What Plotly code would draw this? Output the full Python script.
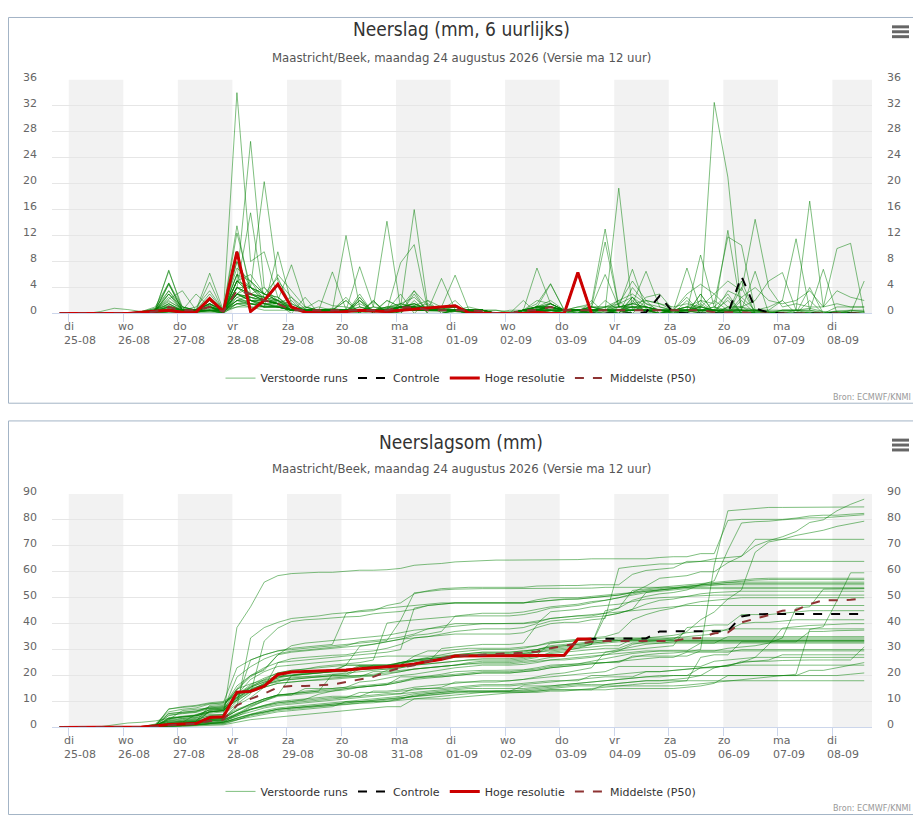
"""
Pluimverwachting neerslag Maastricht/Beek: 6-uurlijkse neerslag (boven)
en neerslagsom (onder) van de ECMWF-ensembleleden, controle, hoge resolutie
en de mediaan (P50).
"""

import numpy as np
import pandas as pd
import plotly.graph_objects as go

# de pagina heeft 8px body-marge; figuur daarom iets kleiner en alles in
# vensterpixels opgeven
OFF = 8
W, H = 921 - OFF, 820 - OFF

# --- data -------------------------------------------------------------------
# 6-uurlijkse tijdstappen (lokale tijd), eerste stap 24-08 20:00
START = "2026-08-24 20:00"
N_STEPS = 60

DAY_NAMES = ["di", "wo", "do", "vr", "za", "zo", "ma", "di", "wo", "do", "vr", "za", "zo", "ma", "di"]
DAY_DATES = ["25-08", "26-08", "27-08", "28-08", "29-08", "30-08", "31-08", "01-09",
             "02-09", "03-09", "04-09", "05-09", "06-09", "07-09", "08-09"]

# verstoorde runs, neerslag per 6 uur (mm)
m01 = [0, 0,0,0,0, 0,.3,.8,1.2, .5,.4,1.3,0, 34,8,9.5,2.5, .8,.3,.2,0, .5,.3,0,.2, .5,1.2,.4,.3, .6,.3,.2,.2, 0,0,.2,0, 0,0,.3,0, 0,0,0,.5, .3,0,1.2,0, 12.8,.4,0,0, 0,.5,.8,.3, 0,.4,.3]
m02 = [0, 0,0,0,0, 0,0,.5,1.5, .3,.2,.5,0, 5,26.5,4,2, 1.5,.5,.5,.8, .4,.5,.3,2, 1,3.5,1.2,.8, .3,.2,0,0, 0,0,.5,.2, 0,0,.3,0, 0,4,1.5,.5, .5,2.5,0,0, 0,0,0,0, 0,0,0,0, 0,0,0]
m03 = [0, 0,0,0,0, 0,.2,.6,1.8, .8,.4,1.2,0, 4,4,20.3,5, 2.5,.7,.3,.5, .3,.2,1,.5, .4,.8,1.5,.5, .5,0,0,0, 0,0,1.2,.8, 0,0,.5,.5, .5,.5,2.5,3, .5,.5,1.5,0, 3.5,2.5,4,2, 1.5,2,3.5,1, 3.5,2.5,2]
m04 = [0, 0,0,0,0, 0,0,.3,.7, .2,.3,.5,0, 3,2,1.5,1, .5,.8,2,1.2, 1,.5,.5,.5, 1,1.5,.8,.7, 1,.3,.2,0, 0,.2,.8,1, .3,.2,.5,0, .5,1.5,1,.5, .2,.5,.8,32.5, 21,.5,.5,.3, 0,0,.2,0, 0,0,0]
m05 = [0, 0,0,0,0, 0,0,.2,3, 1,.5,2,.3, 12.4,4,3,2, 1,.4,.6,.6, .5,1.5,.5,.5, .8,1.2,2,1, 1,0,0,0, 0,0,.5,1.5, .5,.5,0,1, 2,3,1.5,1, .5,1,2,1.5, 11.8,10.5,.5,.2, .5,.5,.3,0, .4,.5,.3]
m06 = [0, 0,0,0,0, 0,0,.4,.6, .5,1,3.5,.5, 6,2,1,9.5, 1.5,.5,.5,.3, .2,1,.5,1, 1.5,2.5,.5,.5, .5,0,0,0, 0,.5,2,1.5, .5,0,1,.5, 19.3,.7,.5,.5, 0,.5,.5,1, .5,.5,6.5,0, 0,0,0,0, 0,0,0]
m07 = [0, 0,0,0,0, 0,0,.3,.5, .3,.5,1,.2, 2,3,2.5,2, .7,1,.5,.5, .5,2,.5,1, 1,.5,.8,.7, 1,.5,.5,0, 0,.3,.7,1, 0,.5,.5,1, 1.5,2.5,1,.5, .5,3,4.5,3, 5,3.5,14.5,4, 1,1.5,1,1, 1.5,1,1]
m08 = [0, 0,0,0,0, 0,0,0,.3, .2,.3,.5,0, 1.5,2,1,1.2, .5,.3,.2,.5, .3,.5,.2,.5, 1,1.5,.5,.5, .5,0,0,0, 0,0,0,.5, 0,0,.5,.5, .5,0,0,0, 0,.3,.5,.5, .7,.5,.5,.5, .5,.5,17.3,1, 10,10.8,0]
m09 = [0, 0,0,0,0, 0,.2,.5,1, .5,.3,.8,.2, 5,3,4,1.5, .5,.5,.2,.3, .5,.5,.3,.7, 1,1,.5,.5, .5,1,.5,0, 0,.5,1,2, .5,1,1.5,13, 1,6.8,.7,.5, .5,.5,.5,.5, .5,.5,.3,.2, 0,0,0,0, 0,0,0]
m10 = [0, 0,0,0,0, 0,0,.3,.5, .4,.5,4.8,.3, 8,2,1.5,1.5, .5,.3,.3,.5, .5,.3,.5,.8, 1.5,1,.5,.5, .5,.5,0,0, 0,.5,.5,1, .5,.5,1,11, 1,1.5,6.5,1, .5,.5,1,.5, .5,.5,.3,.2, 0,0,0,0, 0,0,0]
m11 = [0, 0,0,0,0, 0,.3,1,4.7, 1,.5,1.5,.5, 13.5,3,2,1.5, 1,.5,.5,.5, 12,1,.5,.5, .5,.5,.5,.5, 0,0,0,0, 0,0,.5,.5, .5,0,.5,.5, .5,1,.5,.5, .5,1,.5,.5, .3,.2,0,0, 0,0,0,0, 0,0,0]
m12 = [0, 0,0,0,0, 0,0,.5,6.7, .5,.5,1,.3, 3,4,2.5,2, 1,.5,1,.5, .5,.5,1,14.2, .8,.5,.5,.5, .3,.2,0,0, 0,.5,1,1.5, .5,.5,1,1, 1,1.5,1,.5, .5,.5,.5,.5, .3,.2,0,0, 0,0,0,0, 0,0,0]
m13 = [0, 0,0,0,0, 0,.2,.6,2.2, 3.5,.5,.5,.5, 7,5,3,2, .5,.5,.3,.7, .5,.5,.5,.5, 1,16,1,.5, .5,0,0,0, 0,0,.5,.5, .3,.2,.5,.5, .5,1,1,.5, .5,.5,.3,.2, 0,0,0,0, 0,0,0,0, 0,0,0]
m14 = [0, 0,0,0,0, 0,0,.3,1.2, .5,3,1,.5, 4,15.5,2,1.5, .5,.5,.5,.5, .5,.5,.5,.5, 7.8,10.6,.5,.6, .3,.2,0,0, 0,0,0,0, 0,0,.2,.3, 0,0,0,0, 0,0,0,0, 0,0,0,0, 0,0,0,0, 0,0,0]
m15 = [0, 0,0,.3,.8, .6,.3,.5,1, .5,.5,1.5,.5, 5,4,3,2.5, 1,.5,.5,.5, .5,7.2,1,.8, 1,1.5,.5,1, 5.9,.6,.5,0, 0,.5,1,1, .5,.5,1,.5, 1,1,1,.5, .5,.5,0,0, 0,0,0,0, 0,0,0,0, 0,0,0]
m16 = [0, 0,0,0,0, 0,0,.3,.7, .5,.5,1,.5, 3,2.5,2,1.5, .5,.5,.5,6.4, .6,.5,.5,.5, 1,1,.5,5.4, .6,.5,.5,0, 0,.5,7,1.5, .5,.5,.5,.5, 1,1.5,2,1.5, .5,1,1,.5, .3,.2,0,0, 0,0,0,0, 0,0,0]
m17 = [0, 0,0,0,0, 0,.2,.8,3.5, 1,.5,2,.5, 6,5,3,5.5, 1,.5,.5,.5, .5,.5,.5,1, 1,.5,.5,1, 1,.5,.5,0, 0,.5,1.5,4.6, .5,.4,1,.5, .5,1,1,.5, .3,.3,.2,.2, 0,0,0,0, 0,0,0,0, 0,0,0]
m18 = [0, 0,0,0,0, 0,0,.5,2, .5,.5,2.5,.5, 5,3,2.5,1.5, .5,.5,.5,.5, 0,3,0,0, 1.5,1,1,1, 1,.5,.5,0, 0,.5,1,1.5, .5,.5,.5,.5, 1.5,5,2,1.5, 1,1.5,1,.5, .5,.5,0,0, 0,0,0,0, 0,0,0]
m19 = [0, 0,0,0,0, 0,0,.2,.5, .3,.5,1,.2, 2.5,3,2,1.8, .5,.5,.5,.5, .5,1,.5,.5, 1,1,.5,.5, .5,.5,.5,0, 0,.5,.5,1, .5,.5,.5,.5, 0,2.5,0,0, 0,0,2,0, 1,.5,.5,1, 2,11.5,.5,6.8, 0,.2,0]
m20 = [0, 0,0,0,0, 0,.3,.5,4.5, .5,.5,1.5,.2, 8,4,2,6, 3.5,1,.5,.5, .5,.5,.5,.5, 1,1,.5,.5, .5,.5,.5,0, 0,.2,.8,1, .5,.5,.5,.5, .5,.5,.5,.5, .5,.5,0,0, 0,0,0,0, 0,0,0,0, 0,0,0]
m21 = [0, 0,0,0,0, 0,0,.3,1, .5,.5,6.2,.5, 4,2.5,2,1.5, 2.5,0,.5,0, 0,.2,1.8,0, 1,1,.5,.5, .5,.5,.5,0, 0,.5,1,1, .5,.5,.5,.5, .5,.5,.5,.5, .5,1,.5,.5, 0,2.5,.5,0, .5,.5,0,0, 0,0,0]
m22 = [0, 0,0,0,0, 0,0,.2,.3, .2,.3,.5,.2, 2,1.5,1.3,1, .5,.5,.5,.5, .5,.5,.5,.5, .5,1,.5,.5, .5,.5,0,0, 0,0,.5,.5, .5,.5,.5,.5, .5,.5,.5,.5, 0,0,3,0, 1,1,2,5, 6.3,.5,.5,.2, .3,.2,0]
m23 = [0, 0,0,0,0, 0,0,.5,3, .5,.5,1,.5, 6,4,2,1.5, .5,.5,.5,.5, 0,2.5,0,0, 1,.5,.5,.5, .5,.5,0,0, 0,.5,1,.5, .5,.5,.5,.5, 0,2.5,0,0, .5,.5,.5,.5, 2,0,0,0, 0,0,0,0, 0,0,0]
m24 = [0, 0,0,0,0, 0,0,.2,.3, .3,.2,.5,.5, 1,1.5,1,1, .5,.5,.5,.5, .5,.5,.5,.5, .5,1,1,.5, .5,0,0,0, 0,0,.5,.5, .5,.5,0,0, 0,.5,.5,0, .5,.5,9,1, 0,5,0,0, 0,0,4,0, .3,.2,0]
m25 = [0, 0,0,0,0, 0,0,.3,1, .5,.5,1,.2, 3,2.5,2,1.5, 0,2.5,0,0, .5,.5,.5,.5, 1,1,.5,.5, .5,.5,.5,0, 0,.5,.5,1, .5,.5,1,1, 1,1,.5,.5, 0,0,3,0, 2.5,0,0,0, 0,0,0,0, 0,0,0]
m26 = [0, 0,0,0,0, 0,.2,.5,4.7, .5,.5,1,.1, 5,6,3,2, .5,.5,.5,.5, .5,.5,.5,.5, 0,0,2,0, .5,.5,0,0, 0,.5,.5,1, .5,.5,.5,.5, 0,0,0,0, 0,0,0,0, 0,0,0,0, 0,0,0,0, 0,0,0]
m27 = [0, 0,0,0,0, 0,0,.5,2.5, .5,.5,3,.5, 3,5,2,1.5, 1,.5,.5,.5, 0,2,0,0, 1,1.5,.5,.5, 1,.5,.5,0, 0,.5,.5,1.5, .5,.5,.5,.5, .5,0,0,0, 0,0,0,0, 0,0,0,0, 0,0,0,0, 0,0,0]
m28 = [0, 0,0,0,0, 0,0,.3,4.5, .5,.5,1.5,.2, 4,3,2,1.5, .5,.5,.5,.5, 0,0,0,2, 1,1,.5,.5, .5,.5,.5,0, 0,.5,1,4.5, .5,.5,0,0, 0,0,0,0, 0,0,0,0, 0,0,0,0, 0,0,0,0, 0,0,0]
m29 = [0, 0,0,0,0, 0,0,.5,1.5, .5,.5,1.5,.5, 5,4,3,2.5, .5,.5,.5,.5, 2.5,0,0,0, 0,3.5,0,0, .5,.5,.5,0, 0,.5,.5,1, .5,.5,.5,.5, .5,0,0,0, 0,0,0,0, 0,0,0,0, 0,0,0,0, 0,0,0]
m30 = [0, 0,0,0,0, 0,0,.2,.8, .5,.5,1,.5, 3,2,2,2, 7.5,1,.5,.5, 2,0,0,0, .5,1,.5,.5, .5,.5,.5,0, 0,.5,1,1, .5,.5,.5,.5, .5,0,0,0, 0,0,0,0, 0,0,0,0, 0,0,0,0, 0,0,0]
m31 = [0, 0,0,0,0, 0,0,.3,.5, .3,.4,.5,.3, 2,2.5,1.5,1.2, .5,.5,.5,.5, 0,2,0,0, .5,.5,.5,.5, 2,0,0,0, .5,.5,1,1, .5,1,1,6, 1,1,1,.5, .5,0,0,0, 0,0,0,0, 0,0,0,0, 0,0,0]
m32 = [0, 0,0,0,0, 0,0,.3,3.5, .5,.5,2,.2, 4,3,2.5,1.5, .5,.5,.5,.5, 0,2.5,0,0, .5,1,.5,.5, .5,.5,0,0, 0,.5,1,1, .5,.5,.5,.5, 0,2,0,0, 0,0,0,0, 0,0,0,0, 0,0,0,0, 0,0,0]
m33 = [0, 0,0,0,0, 0,0,.2,.5, .3,.5,.5,.5, 2,1.5,1.5,1, .5,.5,.5,.5, .5,.5,.5,.5, .5,.5,.5,.5, .5,.5,.5,0, 0,.5,.5,.5, .5,.5,.5,.5, 0,0,2,0, .5,.5,.5,.5, 0,2,0,0, .3,.2,0,0, 0,0,5]
m34 = [0, 0,0,0,0, 0,0,.3,1.5, .5,.5,1,.2, 3,2,2,1.5, .5,.5,.5,.5, .5,.5,.5,.5, 3,0,0,0, .5,.5,.5,0, 0,.5,.5,1, .5,.5,.5,.5, .5,.5,.5,.5, 0,2,0,0, 0,1,0,0, 0,0,0,0, 0,0,0]
m35 = [0, 0,0,0,0, 0,0,.5,6.5, 1,.5,1,.5, 3,2,1.5,1, 2,0,0,0, 0,0,2,0, .5,.5,.5,.5, .5,.5,0,0, 0,.5,.5,.5, .5,.5,.5,.5, .5,.5,.5,0, 0,0,0,0, 0,0,0,0, 0,0,0,0, 0,0,0]
m36 = [0, 0,0,0,0, 0,0,.2,.3, .2,.3,.5,.5, 1.5,1.5,1,1, .5,.5,.5,.5, .5,.5,.5,.5, .5,.5,.5,.5, .5,.5,0,0, 0,.5,.5,.5, .5,.5,0,0, .5,.5,.5,0, .5,.5,1,3, 1,1,.5,.5, 2,0,0,0, 0,0,0]
m37 = [0, 0,0,0,0, 0,0,.3,.7, .5,.5,.5,.5, 2,2,1.5,1.5, .5,.5,.5,.5, 0,0,2,0, .5,1,.5,.5, .5,.5,.5,0, 0,.5,.5,.5, .5,.5,.5,.5, 2,0,0,0, 0,0,0,2, .5,.5,.5,0, 0,0,0,0, 0,0,0]
m38 = [0, 0,0,0,0, 0,0,.2,.3, .3,.2,.5,.5, 1.5,1.5,1,1, .5,.5,.5,.5, .5,.5,.5,.5, .5,.5,.5,.5, .3,.2,0,0, 0,0,0,.5, 0,.5,0,0, .5,0,0,0, 0,.5,.5,1, 3,0,0,0, 0,0,2,0, 1,1,1]
m39 = [0, 0,0,0,0, 0,0,.3,1, .5,.5,.5,.2, 2.5,1.5,1,1, .5,.5,.5,.5, .5,.5,.5,.5, 0,2,0,0, .5,.5,.5,0, 0,.5,.5,.5, 0,0,2,0, .5,.5,.5,0, .5,.5,.5,.5, .3,.2,0,0, 0,0,0,0, 0,0,0]
m40 = [0, 0,0,0,0, 0,0,.2,.3, .2,.3,.3,.2, 1.5,1,1,1, .5,.5,.5,.5, 2,0,0,0, .5,.5,.5,.5, .5,.5,.5,.5, 0,2,0,0, .5,.5,.5,.5, .5,.5,.5,0, .5,0,0,0, 0,0,0,0, 0,0,0,0, 0,.5,.5]
m41 = [0, 0,0,0,0, 0,0,0,.2, .2,.2,.2,.2, 1,1,.5,.5, .5,.5,.5,.5, .5,.5,.5,.5, 0,3,0,0, .5,.5,.5,.5, .3,.2,.5,.5, 0,0,0,2, .5,.5,.5,0, 0,0,0,0, 0,0,0,0, 0,0,0,0, 0,0,0]
m42 = [0, 0,0,0,0, 0,0,.5,3, .5,.5,1.5,.5, 4,3,2,1.5, .5,.5,.5,.5, .5,.5,.5,.5, .5,1,.5,.5, .5,.5,.5,0, 0,.5,.5,1, .5,.5,.5,.5, .5,.5,.5,.5, .5,7,.5,.5, 0,4,0,0, .5,.5,.5,0, 0,0,0]

members = [m01, m02, m03, m04, m05, m06, m07, m08, m09, m10, m11, m12, m13, m14,
           m15, m16, m17, m18, m19, m20, m21, m22, m23, m24, m25, m26, m27, m28,
           m29, m30, m31, m32, m33, m34, m35, m36, m37, m38, m39, m40, m41, m42]

# controle run (60 stappen) en hoge resolutie (10 dagen, 40 stappen)
control = [0, 0,0,0,0, 0,.2,.4,.5, .2,.2,2.3,.3, 9.5,.3,2,4.5, 1,.2,.1,.1, .3,.5,.4,.3, .5,.7,.8,1, 1.2,.1,0,0, 0,0,.2,0, 0,6.3,0,0, 0,0,.2,2.7, .1,0,0,0, 0,5.7,.8,.1, 0,0,0,0, 0,0,0]
hires = [0, 0,0,0,0, 0,.2,.4,.5, .2,.2,2.3,.3, 9.5,.3,2,4.5, 1,.2,.1,.1, .3,.5,.4,.3, .5,.7,.8,1, 1.2,.1,0,0, 0,0,.2,0, 0,6.3,0]

p50_sum = [0, 0,0,0,0, 0,.1,.3,.8, 1.2,1.5,2.5,3, 8.5,11,13,15.5, 16,16,16.2,16.5,
           17.5,18.5,19.5,21.5, 23,24,25.5,26.5, 27.5,27.8,28,28.2, 28.5,28.8,29.2,30.5,
           31.5,32.3,33,33.3, 33.3,33.3,33.3,33.3, 33.3,34.3,34.5,36.3, 36.6,40.5,41.8,43.3,
           45,45.2,47.5,49, 49,49.2,49.8]

for arr in members + [control, p50_sum]:
    assert len(arr) == N_STEPS, len(arr)

times = pd.date_range(START, periods=N_STEPS, freq="6h")
days = pd.date_range("2026-08-25", periods=len(DAY_NAMES), freq="D")
ens = np.array(members, dtype=float)
p50_step = np.median(ens, axis=0)

# --- opmaak ---------------------------------------------------------------
GREEN = "rgba(0,128,0,0.5)"
RED = "#cc0000"
BROWN = "#8e3333"
TICK_FONT = dict(family="DejaVu Sans, Verdana, sans-serif", size=11, color="#666666")
TITLE_FAMILY = "Liberation Sans Narrow, DejaVu Sans Condensed, Arial Narrow, sans-serif"
X_RANGE = ["2026-08-24 16:38", "2026-09-08 17:25"]


def px(x):
    # vensterpixel -> paper
    return (x - OFF) / W


def py(y):
    return 1 - (y - OFF) / H


fig = go.Figure()

panels = [
    # (x-as, y-as, rechter y-as, legenda, sommeren?)
    ("x", "y", "y3", "legend", False),
    ("x2", "y2", "y4", "legend2", True),
]

for xa, ya, ya_right, leg, cumulative in panels:
    for k, m in enumerate(members):
        vals = np.cumsum(m) if cumulative else np.array(m)
        fig.add_trace(go.Scatter(
            x=times, y=vals, mode="lines", xaxis=xa, yaxis=ya,
            line=dict(color=GREEN, width=1), name="Verstoorde runs",
            legendgroup="ens", showlegend=(k == 0), legend=leg, hoverinfo="skip"))
    ctrl = np.cumsum(control) if cumulative else control
    fig.add_trace(go.Scatter(
        x=times, y=ctrl, mode="lines", xaxis=xa, yaxis=ya, name="Controle",
        line=dict(color="black", width=2, dash="dash"), legend=leg))
    hr = np.cumsum(hires) if cumulative else hires
    fig.add_trace(go.Scatter(
        x=times[:len(hires)], y=hr, mode="lines", xaxis=xa, yaxis=ya, name="Hoge resolutie",
        line=dict(color=RED, width=3), legend=leg))
    med = p50_sum if cumulative else p50_step
    fig.add_trace(go.Scatter(
        x=times, y=med, mode="lines", xaxis=xa, yaxis=ya, name="Middelste (P50)",
        line=dict(color=BROWN, width=2, dash="dash"), legend=leg))
    # lege trace zodat de rechter y-as getekend wordt
    fig.add_trace(go.Scatter(x=times[:1], y=[0], xaxis=xa, yaxis=ya_right, mode="lines",
                             line=dict(width=0), showlegend=False, hoverinfo="skip"))

x_common = dict(
    type="date", range=X_RANGE, domain=[px(52), px(872)], showgrid=False,
    showticklabels=False, ticks="outside", ticklen=8, tickcolor="#ccd6eb",
    tickvals=days, showline=True, linecolor="#ccd6eb", zeroline=False, fixedrange=True,
)
y_common = dict(
    gridcolor="#e6e6e6", zeroline=False, showline=False, tickfont=TICK_FONT,
    ticks="", ticklabelstandoff=14, ticklabelshift=-3, fixedrange=True,
)

top_dom = [py(309.3), py(71.7)]
bot_dom = [py(730), py(492.7)]
legend_font = dict(family="DejaVu Sans, Verdana, sans-serif", size=11, color="#333333")

fig.update_layout(
    width=W, height=H,
    margin=dict(l=0, r=0, t=0, b=0),
    paper_bgcolor="white", plot_bgcolor="white",
    showlegend=True,
    xaxis=dict(**x_common, anchor="y"),
    xaxis2=dict(**x_common, anchor="y2"),
    yaxis=dict(**y_common, domain=top_dom, range=[0, 36], dtick=4, anchor="x"),
    yaxis3=dict(**y_common, range=[0, 36], dtick=4, overlaying="y", side="right",
                anchor="x", showgrid=False),
    yaxis2=dict(**y_common, domain=bot_dom, range=[0, 90], dtick=10, anchor="x2"),
    yaxis4=dict(**y_common, range=[0, 90], dtick=10, overlaying="y2", side="right",
                anchor="x2", showgrid=False),
    legend=dict(orientation="h", x=px(461), xanchor="center", y=py(375), yanchor="middle",
                font=legend_font, itemwidth=30, bgcolor="rgba(0,0,0,0)"),
    legend2=dict(orientation="h", x=px(461), xanchor="center", y=py(795), yanchor="middle",
                 font=legend_font, itemwidth=30, bgcolor="rgba(0,0,0,0)"),
)

shapes = []
annotations = []

# kaders rond beide grafieken (links/boven kan niet voorbij de paginamarge)
BORDER = "#a3b4c6"
for y0, y1 in [(8.5, 400.5), (418.5, 818.5)]:
    shapes.append(dict(type="rect", xref="paper", yref="paper", x0=px(8.5), x1=px(919.5),
                       y0=py(y1), y1=py(y0), line=dict(color=BORDER, width=1),
                       fillcolor="rgba(0,0,0,0)"))

# menu-icoon
for top in (23, 443):
    for dy in (-5, 0, 5):
        shapes.append(dict(type="line", xref="paper", yref="paper", x0=px(892), x1=px(909),
                           y0=py(top + dy), y1=py(top + dy),
                           line=dict(color="#666666", width=3)))

x_end = pd.Timestamp(X_RANGE[1])
for xa, ya in [("x", "y"), ("x2", "y2")]:
    # grijze banden om de dag
    for d in days[::2]:
        shapes.append(dict(type="rect", xref=xa, yref=f"{ya} domain",
                           x0=d, x1=min(d + pd.Timedelta(days=1), x_end), y0=0, y1=1,
                           fillcolor="#f2f2f2", line=dict(width=0), layer="below"))
    # daglabels links uitgelijnd bij de tick
    for d, name, date in zip(days, DAY_NAMES, DAY_DATES):
        annotations.append(dict(x=d, xref=xa, y=0, yref=f"{ya} domain", yanchor="top",
                                xanchor="left", xshift=-7, yshift=-5, align="left",
                                text=f"{name}<br>{date}", showarrow=False, font=TICK_FONT))

titles = [
    (20, "Neerslag (mm, 6 uurlijks)", 49, 394),
    (440, "Neerslagsom (mm)", 467, 812),
]
subtitle = "Maastricht/Beek, maandag 24 augustus 2026 (Versie ma 12 uur)"
for ty, title, sy, by in titles:
    annotations.append(dict(x=px(461), xref="paper", y=py(ty), yref="paper", text=title,
                            showarrow=False, yanchor="middle",
                            font=dict(family=TITLE_FAMILY, size=19, color="#333333")))
    annotations.append(dict(x=px(461), xref="paper", y=py(sy), yref="paper", text=subtitle,
                            showarrow=False, yanchor="middle",
                            font=dict(family=TITLE_FAMILY, size=13, color="#555555")))
    annotations.append(dict(x=px(913), xref="paper", y=py(by), yref="paper",
                            text="Bron: ECMWF/KNMI", showarrow=False, xanchor="right",
                            yanchor="middle",
                            font=dict(family=TITLE_FAMILY, size=9, color="#999999")))

fig.update_layout(shapes=shapes, annotations=annotations)

fig.write_html("out.html")
